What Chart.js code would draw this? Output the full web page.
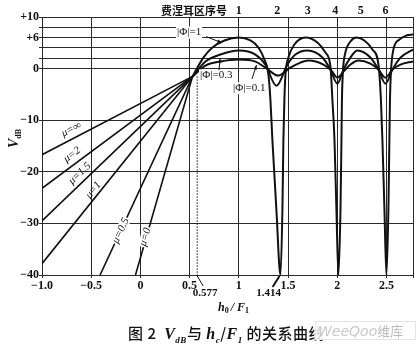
<!DOCTYPE html>
<html><head><meta charset="utf-8">
<script src="https://cdn.jsdelivr.net/npm/chart.js@4"></script>
<style>
html,body{margin:0;padding:0;background:#fff;}
#wrap{position:relative;width:420px;height:355px;overflow:hidden;}
canvas{position:absolute;left:0;top:0;}
#cap{position:absolute;left:128px;top:322px;white-space:nowrap;font:15px "Noto Sans CJK SC",sans-serif;color:#111;font-weight:500;letter-spacing:0.5px;}
#cap i{font-family:"Liberation Serif",serif;font-size:16px;font-weight:bold;}
#cap sub{font-family:"Liberation Serif",serif;font-size:9px;font-style:italic;font-weight:bold;}
#wm{position:absolute;left:315px;top:321px;width:97px;height:17px;border:1px solid #e4e4e4;background:rgba(255,255,255,0.85);font:italic 14px "DejaVu Sans",sans-serif;color:#c8c8c8;line-height:17px;padding-left:2px;white-space:nowrap;}
#wm span{font-style:normal;font-family:"Noto Sans CJK SC";color:#bbb;font-size:13px;}
</style></head>
<body><div id="wrap">
<canvas id="c" width="420" height="355"></canvas>
<div id="cap">图 2&nbsp;&nbsp;<i>V</i><sub>dB</sub>与 <i>h</i><sub>c</sub>/<i>F</i><sub>1</sub> 的关系曲线</div>
<div id="wm">WeeQoo<span>维库</span></div>
</div>
<script>
// ---------- data ----------
const xTicks = [-1, -0.5, 0, 0.5, 1, 1.5, 2, 2.5];
const xTickLabels = ['−1.0', '−0.5', '0', '0.5', '1', '1.5', '2', '2.5'];
const xMax = 2.77;
const yTicks = [-40, -30, -20, -10, 0, 2, 4, 6, 8, 10];
const yTickLabels = ['−40', '−30', '−20', '−10', '0', '', '', '+6', '', '+10'];

// diffraction lines (mu family) meeting at the focus point
const muNames = ['μ=∞', 'μ=2', 'μ=1.5', 'μ=1', 'μ=0.5', 'μ=0'];
const muStartX = [-1, -1, -1, -1, -0.41, -0.05];
const muStartY = [-16.7, -23.2, -29.5, -37.8, -40, -40];
const focusX = 0.53;
const focusY = -1.5;

// reflection curves |Φ| = 1, 0.3, 0.1
const phi1X = [0.528, 0.579, 0.640, 0.732, 0.854, 1.00, 1.118, 1.199, 1.260, 1.301, 1.321, 1.341, 1.382, 1.423,
  1.443, 1.453, 1.463, 1.474, 1.504, 1.565, 1.677, 1.799, 1.880, 1.931, 1.951, 1.972, 1.992, 2.012,
  2.033, 2.043, 2.048, 2.058, 2.083, 2.134, 2.195, 2.276, 2.358, 2.419, 2.444, 2.459, 2.480, 2.500,
  2.520, 2.530, 2.536, 2.546, 2.571, 2.632, 2.703, 2.770];
const phi1Y = [-1.56, 0.19, 2.14, 4.09, 5.45, 6.03, 5.45, 4.09, 1.75, -1.17, -6.03, -13.8, -27.4, -40,
  -27.4, -13.8, -6.03, -1.17, 2.14, 4.67, 6.03, 5.06, 3.11, 0.39, -6.03, -13.8, -27.4, -40,
  -27.4, -13.8, -6.03, -0.58, 3.11, 5.25, 6.03, 5.45, 3.70, 0.78, -6.03, -13.8, -27.4, -40,
  -27.4, -13.8, -6.03, -0.58, 3.70, 5.64, 6.42, 6.61];
const phi03X = [0.528, 0.661, 0.813, 1.00, 1.169, 1.270, 1.382, 1.494, 1.575, 1.697, 1.850, 1.931, 2.002,
  2.063, 2.134, 2.205, 2.337, 2.419, 2.490, 2.561, 2.642, 2.770];
const phi03Y = [-1.56, 1.36, 2.72, 3.50, 2.72, 0.78, -3.31, 0.78, 2.72, 3.50, 2.14, -0.19, -2.92,
  -0.19, 2.14, 3.50, 2.14, -0.19, -2.92, -0.19, 2.14, 3.70];
const phi01X = [0.528, 0.661, 0.813, 1.00, 1.169, 1.270, 1.402, 1.524, 1.626, 1.707, 1.860, 1.941, 2.002,
  2.073, 2.134, 2.215, 2.337, 2.419, 2.490, 2.561, 2.642, 2.770];
const phi01Y = [-1.56, 0.58, 1.36, 1.75, 1.36, 0.19, -1.36, 0.19, 1.17, 1.56, 0.78, -0.39, -1.75,
  -0.39, 0.78, 1.56, 0.97, -0.19, -1.75, -0.19, 0.78, 1.40];

// Fresnel zone numbers on top
const zoneLabels = ['1', '2', '3', '4', '5', '6'];
const zoneX = [1.0, 1.39, 1.70, 1.98, 2.24, 2.49];
const markX = [0.577, 1.414];
const markLabels = ['0.577', '1.414'];

// ---------- build ----------
const pts = (xs, ys) => xs.map((v, i) => ({x: v, y: ys[i]}));
const datasets = [];
muNames.forEach((n, i) => {
  datasets.push({label: n, data: [{x: muStartX[i], y: muStartY[i]}, {x: focusX, y: focusY}],
    borderColor: '#111', borderWidth: 1.6, pointRadius: 0, tension: 0});
});
[[phi1X, phi1Y, '|Φ|=1'], [phi03X, phi03Y, '|Φ|=0.3'], [phi01X, phi01Y, '|Φ|=0.1']].forEach(d => {
  datasets.push({label: d[2], data: pts(d[0], d[1]), borderColor: '#111', borderWidth: 2,
    pointRadius: 0, cubicInterpolationMode: 'monotone'});
});

const SERIF = '"Liberation Serif", serif';
const muLabelLayout = [ {at: -0.66, off: 9, bg: false}, {at: -0.64, off: 9, bg: false}, {at: -0.56, off: 8, bg: false},
  {at: -0.43, off: 6, bg: false}, {at: -0.20, off: 0, bg: true}, {at: 0.06, off: 1, bg: true} ];

function arrow(ctx, x0, y0, x1, y1, head) {
  ctx.beginPath(); ctx.moveTo(x0, y0); ctx.lineTo(x1, y1); ctx.stroke();
  const a = Math.atan2(y1 - y0, x1 - x0);
  ctx.beginPath(); ctx.moveTo(x1, y1);
  ctx.lineTo(x1 - head * Math.cos(a - 0.35), y1 - head * Math.sin(a - 0.35));
  ctx.lineTo(x1 - head * Math.cos(a + 0.35), y1 - head * Math.sin(a + 0.35));
  ctx.closePath(); ctx.fill();
}

const annot = {
  id: 'annot',
  afterDatasetsDraw(chart) {
    const {ctx, chartArea: ca} = chart;
    const sx = chart.scales.x, sy = chart.scales.y;
    const X = v => sx.getPixelForValue(v), Y = v => sy.getPixelForValue(v);
    ctx.save();
    ctx.fillStyle = '#111'; ctx.strokeStyle = '#111';
    // dotted line at 0.577
    ctx.lineWidth = 1; ctx.setLineDash([1.5, 1.5]);
    ctx.beginPath(); ctx.moveTo(X(markX[0]), Y(focusY)); ctx.lineTo(X(markX[0]), ca.bottom); ctx.stroke();
    ctx.setLineDash([]);
    // mu labels
    muNames.forEach((n, i) => {
      const L = muLabelLayout[i];
      const p0x = X(muStartX[i]), p0y = Y(muStartY[i]), p1x = X(focusX), p1y = Y(focusY);
      const a = Math.atan2(p1y - p0y, p1x - p0x);
      const t = (L.at - muStartX[i]) / (focusX - muStartX[i]);
      let cx = p0x + t * (p1x - p0x), cy = p0y + t * (p1y - p0y);
      cx += Math.sin(a) * L.off; cy += -Math.cos(a) * L.off;
      ctx.save(); ctx.translate(cx, cy); ctx.rotate(a);
      ctx.font = 'italic 11px ' + SERIF;
      ctx.textAlign = 'center'; ctx.textBaseline = 'middle';
      if (L.bg) { const w = ctx.measureText(n).width; ctx.fillStyle = '#fff'; ctx.fillRect(-w / 2 - 1, -5, w + 2, 10); ctx.fillStyle = '#111'; }
      ctx.fillText(n, 0, 0);
      ctx.restore();
    });
    // phi labels
    ctx.font = '11px ' + SERIF; ctx.textBaseline = 'middle'; ctx.textAlign = 'left';
    const lbl = (t, px, py) => { const w = ctx.measureText(t).width; ctx.fillStyle = '#fff'; ctx.fillRect(px - 1, py - 6, w + 2, 12); ctx.fillStyle = '#111'; ctx.fillText(t, px, py); };
    lbl('|Φ|=1', 177, Y(7.0));
    ctx.lineWidth = 1;
    arrow(ctx, 206, Y(6.2), X(0.83), Y(5.0), 5);
    lbl('|Φ|=0.3', 200, Y(-1.3));
    arrow(ctx, 219, Y(-0.3), X(0.81), Y(2.0), 5);
    lbl('|Φ|=0.1', 233, Y(-3.8));
    arrow(ctx, 252, Y(-2.0), X(1.18), Y(0.7), 5);
    // zone numbers & header
    ctx.textAlign = 'center';
    ctx.font = 'bold 12px ' + SERIF;
    zoneLabels.forEach((z, i) => ctx.fillText(z, X(zoneX[i]), 11));
    ctx.font = 'bold 11px "Noto Sans CJK SC"';
    ctx.fillText('费涅耳区序号', 194, 11);
    // extra marks under axis
    ctx.font = 'bold 11px ' + SERIF; ctx.textBaseline = 'top';
    ctx.fillText(markLabels[0], X(markX[0]) + 8, 288);
    ctx.lineWidth = 1;
    ctx.beginPath(); ctx.moveTo(X(markX[0]), ca.bottom + 1); ctx.lineTo(X(markX[0]) + 6, ca.bottom + 11); ctx.stroke();
    ctx.fillText(markLabels[1], X(markX[1]) - 11, 288);
    ctx.lineWidth = 2;
    ctx.beginPath(); ctx.moveTo(X(markX[1]), ca.bottom + 1); ctx.lineTo(X(markX[1]) - 7, ca.bottom + 12); ctx.stroke();
    // x title  h0 / F1
    ctx.textBaseline = 'alphabetic'; ctx.textAlign = 'left';
    let hx = 218, hy = 311;
    ctx.font = 'italic bold 12px ' + SERIF; ctx.fillText('h', hx, hy); hx += ctx.measureText('h').width;
    ctx.font = 'bold 8px ' + SERIF; ctx.fillText('0', hx, hy + 2); hx += ctx.measureText('0').width + 2;
    ctx.font = 'italic bold 12px ' + SERIF; ctx.fillText('/ F', hx, hy); hx += ctx.measureText('/ F').width;
    ctx.font = 'bold 8px ' + SERIF; ctx.fillText('1', hx, hy + 2);
    // y title  V dB
    ctx.save(); ctx.translate(18, 148); ctx.rotate(-Math.PI / 2);
    ctx.font = 'italic bold 14px ' + SERIF; ctx.fillText('V', 0, 0);
    const vw = ctx.measureText('V').width;
    ctx.font = 'bold 8px ' + SERIF; ctx.fillText('dB', vw, 3);
    ctx.restore();
    ctx.restore();
  }
};

new Chart(document.getElementById('c'), {
  type: 'line',
  data: {datasets},
  plugins: [annot],
  options: {
    responsive: false, animation: false, devicePixelRatio: 1,
    layout: {padding: {left: 0, right: 7, top: 17, bottom: 58}},
    plugins: {legend: {display: false}, tooltip: {enabled: false}},
    scales: {
      x: {
        type: 'linear', min: -1, max: xMax,
        afterBuildTicks(s) { s.ticks = xTicks.concat([xMax]).map(v => ({value: v})); },
        afterFit(s) { s.height = 22; },
        grid: {color: '#2a2a2a', lineWidth: 1, tickLength: 3},
        border: {color: '#2a2a2a', width: 1},
        ticks: {autoSkip: false, maxRotation: 0, padding: 1, color: '#111',
          font: {family: 'Liberation Serif', size: 12, weight: 'bold'},
          callback(v) { const i = xTicks.indexOf(v); return i >= 0 ? xTickLabels[i] : ''; }}
      },
      y: {
        min: -40, max: 10,
        afterBuildTicks(s) { s.ticks = yTicks.map(v => ({value: v})); },
        afterFit(s) { s.width = 42; },
        grid: {color: '#2a2a2a', lineWidth: 1, tickLength: 3},
        border: {color: '#2a2a2a', width: 1},
        ticks: {autoSkip: false, padding: 0, color: '#111',
          font: {family: 'Liberation Serif', size: 12, weight: 'bold'},
          callback(v) { const i = yTicks.indexOf(v); return i >= 0 ? yTickLabels[i] : ''; }}
      }
    }
  }
});
</script>
</body></html>
